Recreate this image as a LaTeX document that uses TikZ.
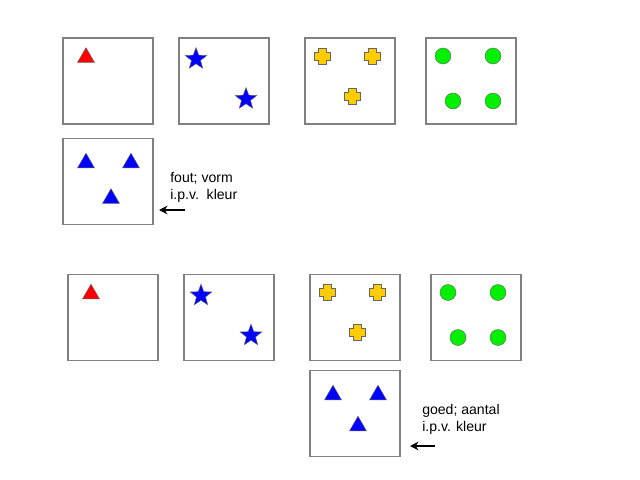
\documentclass[tikz,border=0pt]{standalone}
\usepackage{fontspec}
\setmainfont{Liberation Sans}
\usetikzlibrary{shapes.geometric,arrows.meta}
\definecolor{kgold}{RGB}{255,204,0}
\definecolor{kgroen}{RGB}{0,240,0}
\tikzset{
  card/.style={draw=gray, line width=0.8pt, fill=white, minimum width=2.25cm, minimum height=2.15cm, inner sep=0pt},
  tri/.style={regular polygon, regular polygon sides=3, minimum size=0.49cm, inner sep=0pt, fill=blue, draw=black!60, line width=0.3pt},
  ster/.style={star, star points=5, star point ratio=2.4, minimum size=0.57cm, inner sep=0pt, fill=blue, draw=black!60, line width=0.3pt},
  bol/.style={circle, minimum size=0.4cm, inner sep=0pt, fill=kgroen, draw=black!60, line width=0.3pt},
  note/.style={align=left, anchor=west, inner sep=0pt, font=\fontsize{10}{12.5}\selectfont},
  pijl/.style={-{Stealth[length=6pt,width=6pt]}, line width=1.3pt},
  kruis/.pic={\filldraw[fill=kgold, draw=black!60, line width=0.3pt]
    (-8,-4) -- (-4,-4) -- (-4,-8) -- (4,-8) -- (4,-4) -- (8,-4) -- (8,4)
    -- (4,4) -- (4,8) -- (-4,8) -- (-4,4) -- (-8,4) -- cycle;}
}
\begin{document}
\begin{tikzpicture}[x=0.025cm, y=-0.025cm]
\useasboundingbox (0,0) rectangle (640,480);
% bovenste rij
\begin{scope}[shift={(0,0)}]
  \node[card] (a1) at (108,81) {};
  \node[tri, fill=red] (a1t) at (86,57.5) {};
  \node[card] (a2) at (224,81) {};
  \node[ster] (a2s1) at (196,59) {};
  \node[ster] (a2s2) at (246,99) {};
  \node[card] (a3) at (350,81) {};
  \pic at (322,56) {kruis};
  \pic at (372,56) {kruis};
  \pic at (352,96) {kruis};
  \node[card] (a4) at (471,81) {};
  \node[bol] (a4b1) at (443,56) {};
  \node[bol] (a4b2) at (493,56) {};
  \node[bol] (a4b3) at (453,101) {};
  \node[bol] (a4b4) at (493,101) {};
\end{scope}
\node[card] (a5) at (108,181.5) {};
\node[tri] (a5t1) at (86,163) {};
\node[tri] (a5t2) at (131,163) {};
\node[tri] (a5t3) at (111,198.5) {};
\node[note] (fout) at (170,187.5) {fout; vorm\\i.p.v.\ \ kleur};
\coordinate (fstart) at (185,210);
\coordinate (feind) at (159,210);
\draw[pijl] (fstart) -- (feind);
% onderste rij
\begin{scope}[shift={(5,236.5)}]
  \node[card] (b1) at (108,81) {};
  \node[tri, fill=red] (b1t) at (86,57.5) {};
  \node[card] (b2) at (224,81) {};
  \node[ster] (b2s1) at (196,59) {};
  \node[ster] (b2s2) at (246,99) {};
  \node[card] (b3) at (350,81) {};
  \pic at (322,56) {kruis};
  \pic at (372,56) {kruis};
  \pic at (352,96) {kruis};
  \node[card] (b4) at (471,81) {};
  \node[bol] (b4b1) at (443,56) {};
  \node[bol] (b4b2) at (493,56) {};
  \node[bol] (b4b3) at (453,101) {};
  \node[bol] (b4b4) at (493,101) {};
\end{scope}
\node[card] (b5) at (355,413.5) {};
\node[tri] (b5t1) at (333,395) {};
\node[tri] (b5t2) at (378,395) {};
\node[tri] (b5t3) at (358,426) {};
\node[note] (goed) at (422,419.5) {goed; aantal\\i.p.v. kleur};
\coordinate (gstart) at (435,446);
\coordinate (geind) at (410,446);
\draw[pijl] (gstart) -- (geind);
\end{tikzpicture}
\end{document}
